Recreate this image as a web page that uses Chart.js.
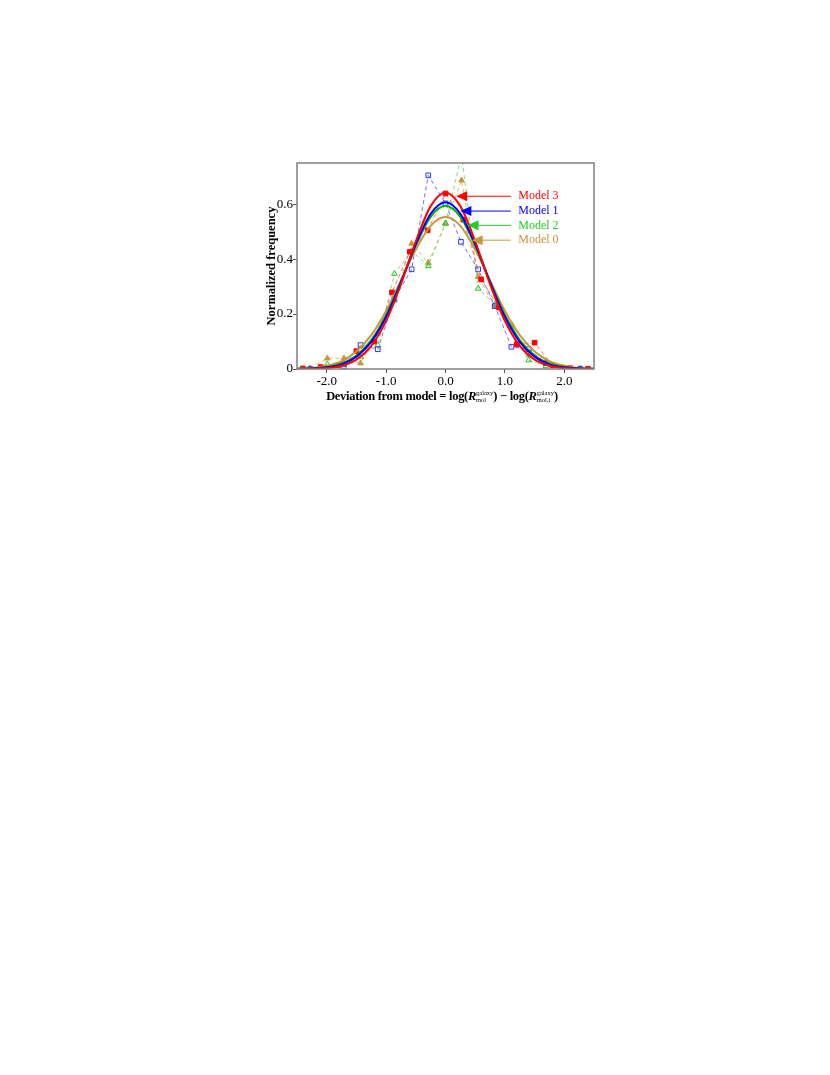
<!DOCTYPE html>
<html>
<head>
<meta charset="utf-8">
<script src="https://cdn.jsdelivr.net/npm/chart.js@4.4.0/dist/chart.umd.min.js"></script>
<style>
    body { margin: 0; background: #fff; width: 830px; height: 1075px; position: relative; }
    #wrap { position: absolute; left: 0; top: 0; width: 830px; height: 420px; }
    #xTitle {
        position: absolute; top: 389px; left: 242px; width: 400px; text-align: center;
        font-family: "Liberation Serif", "Times New Roman", serif; font-weight: bold; font-size: 12.5px; color: #000;
        letter-spacing: -0.3px; white-space: nowrap;
    }
    .stk { display: inline-block; vertical-align: -2px; font-size: 6.5px; line-height: 7px; font-weight: normal; text-align: left; letter-spacing: 0; }
    .stk span { display: block; }
</style>
</head>
<body>
<div id="wrap"><canvas id="chart" width="830" height="420"></canvas></div>
<div id="xTitle">Deviation from model = log(<i>R</i><span class="stk"><span>galaxy</span><span>mol</span></span>) &minus; log(<i>R</i><span class="stk"><span>galaxy</span><span>mol,i</span></span>)</div>

<script>
// Fitted curves
const curveX = [-2.5, -2.25, -2.0, -1.75, -1.5, -1.25, -1.0, -0.75, -0.5, -0.25, 0, 0.25, 0.5, 0.75, 1.0, 1.25, 1.5, 1.75, 2.0, 2.25, 2.5];
const model3Curve = [0.0002, 0.0009, 0.0035, 0.012, 0.034, 0.084, 0.175, 0.309, 0.465, 0.593, 0.643, 0.593, 0.465, 0.309, 0.175, 0.084, 0.034, 0.012, 0.0035, 0.0009, 0.0002];
const model1Curve = [0.0004, 0.0017, 0.006, 0.017, 0.045, 0.099, 0.190, 0.316, 0.454, 0.565, 0.607, 0.565, 0.454, 0.316, 0.190, 0.099, 0.045, 0.017, 0.006, 0.0017, 0.0004];
const model2Curve = [0.0006, 0.0022, 0.007, 0.020, 0.049, 0.105, 0.196, 0.319, 0.450, 0.554, 0.594, 0.554, 0.450, 0.319, 0.196, 0.105, 0.049, 0.020, 0.007, 0.0022, 0.0006];
const model0Curve = [0.0014, 0.004, 0.012, 0.029, 0.064, 0.123, 0.211, 0.322, 0.435, 0.521, 0.553, 0.521, 0.435, 0.322, 0.211, 0.123, 0.064, 0.029, 0.012, 0.004, 0.0014];

// Binned histograms (dashed lines with markers)
const model3X = [-2.4, -2.1, -1.8, -1.5, -1.2, -0.9, -0.6, -0.3, 0, 0.3, 0.6, 0.9, 1.2, 1.5, 1.8, 2.1, 2.4];
const model3Y = [0.002, 0.007, 0.015, 0.065, 0.10, 0.279, 0.427, 0.505, 0.639, 0.544, 0.326, 0.224, 0.09, 0.096, 0.013, 0.003, 0.001];
const model1X = [-2.28, -1.99, -1.71, -1.43, -1.14, -0.86, -0.57, -0.29, 0, 0.26, 0.55, 0.83, 1.11, 1.40, 1.69, 1.98, 2.27];
const model1Y = [0, 0.001, 0.017, 0.087, 0.072, 0.256, 0.363, 0.705, 0.603, 0.463, 0.363, 0.229, 0.081, 0.072, 0.021, 0.001, 0.001];
const model2X = [-2.28, -1.99, -1.71, -1.43, -1.14, -0.86, -0.57, -0.29, 0, 0.27, 0.55, 0.83, 1.12, 1.40, 1.69, 1.98, 2.27];
const model2Y = [0, 0.017, 0.008, 0.045, 0.087, 0.347, 0.43, 0.375, 0.53, 0.78, 0.293, 0.235, 0.16, 0.032, 0.011, 0.001, 0];
const model0X = [-2.28, -1.99, -1.71, -1.43, -1.14, -0.86, -0.57, -0.29, 0, 0.27, 0.55, 0.83, 1.12, 1.40, 1.69, 1.98, 2.27];
const model0Y = [0.003, 0.039, 0.039, 0.021, 0.13, 0.25, 0.457, 0.387, 0.53, 0.687, 0.336, 0.227, 0.154, 0.051, 0.027, 0.005, 0.001];

// Axis ticks
const xTicks = [-2, -1, 0, 1, 2];
const yTicks = [0, 0.2, 0.4, 0.6];

// Arrow labels (data coords)
const labelNames = ['Model 3', 'Model 1', 'Model 2', 'Model 0'];
const labelY = [0.629, 0.575, 0.523, 0.469];
const arrowTipX = [0.18, 0.25, 0.37, 0.44];
const arrowTailX = 1.10;
const labelTextX = 1.225;
const labelColors = ['#ff0000', '#0000ff', '#22cc22', '#c8963c'];

const serif = '"Liberation Serif", "Times New Roman", serif';

function toPoints(xs, ys) {
    return xs.map((x, i) => ({ x: x, y: ys[i] }));
}

function curveSet(ys, color) {
    return {
        data: toPoints(curveX, ys),
        showLine: true,
        borderColor: color,
        borderWidth: 2,
        pointRadius: 0,
        cubicInterpolationMode: 'monotone'
    };
}

function binSet(xs, ys, color, lineColor, style, filled) {
    return {
        data: toPoints(xs, ys),
        showLine: true,
        borderColor: lineColor,
        borderWidth: 1,
        borderDash: [4, 3],
        pointStyle: style,
        pointRadius: 3.3,
        pointBorderWidth: 1,
        pointBorderColor: color,
        pointBackgroundColor: filled ? color : 'rgba(255,255,255,0)'
    };
}

// Frame and arrow labels
const decorPlugin = {
    id: 'decor',
    afterDatasetsDraw(chart) {
        const { ctx, chartArea: a, scales: { x, y } } = chart;
        ctx.save();
        ctx.strokeStyle = '#808080';
        ctx.lineWidth = 1.5;
        ctx.strokeRect(a.left, a.top, a.right - a.left, a.bottom - a.top);

        ctx.font = '12px ' + serif;
        ctx.textBaseline = 'middle';
        labelNames.forEach((name, i) => {
            const py = y.getPixelForValue(labelY[i]);
            const tip = x.getPixelForValue(arrowTipX[i]);
            const tail = x.getPixelForValue(arrowTailX);
            ctx.strokeStyle = labelColors[i];
            ctx.fillStyle = labelColors[i];
            ctx.lineWidth = 1;
            ctx.beginPath();
            ctx.moveTo(tail, py);
            ctx.lineTo(tip + 8, py);
            ctx.stroke();
            ctx.beginPath();
            ctx.moveTo(tip, py);
            ctx.lineTo(tip + 11, py - 5);
            ctx.lineTo(tip + 11, py + 5);
            ctx.closePath();
            ctx.fill();
            ctx.fillText(name, x.getPixelForValue(labelTextX), py);
        });
        ctx.restore();
    }
};

document.addEventListener('DOMContentLoaded', function() {
    const ctx = document.getElementById('chart').getContext('2d');
    new Chart(ctx, {
        type: 'scatter',
        data: {
            datasets: [
                curveSet(model3Curve, '#ff0000'),
                curveSet(model1Curve, '#0000ff'),
                curveSet(model2Curve, '#00b400'),
                curveSet(model0Curve, '#c8963c'),
                binSet(model3X, model3Y, '#ff0000', '#ff7070', 'rect', true),
                binSet(model1X, model1Y, '#3333ff', '#7070ff', 'rect', false),
                binSet(model2X, model2Y, '#22cc22', '#80dd80', 'triangle', false),
                binSet(model0X, model0Y, '#c8963c', '#e8b870', 'triangle', true)
            ]
        },
        options: {
            responsive: false,
            animation: false,
            layout: { padding: { left: 260, top: 163, right: 236, bottom: 26 } },
            plugins: { legend: { display: false }, tooltip: { enabled: false } },
            scales: {
                x: {
                    type: 'linear',
                    min: -2.5,
                    max: 2.5,
                    afterBuildTicks: s => { s.ticks = xTicks.map(v => ({ value: v })); },
                    afterFit: s => { s.height = 25; },
                    border: { display: false },
                    grid: { drawOnChartArea: false, tickLength: 4, color: '#555' },
                    ticks: {
                        color: '#000',
                        font: { family: serif, size: 13 },
                        padding: 1,
                        maxRotation: 0,
                        callback: v => v.toFixed(1)
                    }
                },
                y: {
                    min: 0,
                    max: 0.75,
                    afterBuildTicks: s => { s.ticks = yTicks.map(v => ({ value: v })); },
                    afterFit: s => { s.width = 37; },
                    border: { display: false },
                    grid: { drawOnChartArea: false, tickLength: 4, color: '#555' },
                    ticks: {
                        color: '#000',
                        font: { family: serif, size: 13 },
                        padding: 0,
                        callback: v => (v === 0 ? '0' : v.toFixed(1))
                    },
                    title: {
                        display: true,
                        text: 'Normalized frequency',
                        color: '#000',
                        font: { family: serif, size: 12.5, weight: 'bold' },
                        padding: { top: 4, bottom: 0 }
                    }
                }
            }
        },
        plugins: [decorPlugin]
    });
});
</script>
</body>
</html>
